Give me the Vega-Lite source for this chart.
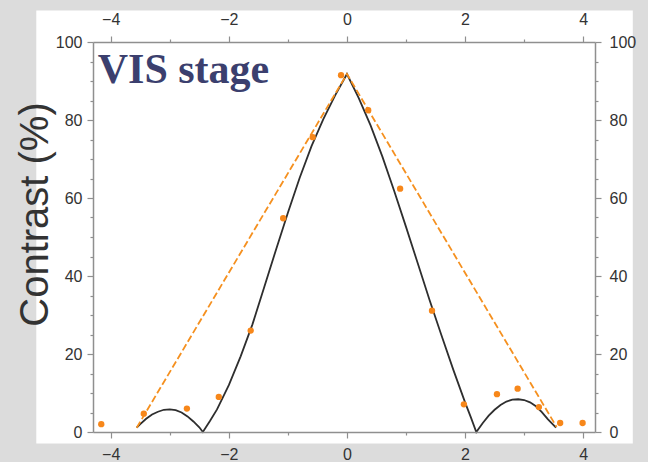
{
  "$schema": "https://vega.github.io/schema/vega-lite/v6.json",
  "width": 502,
  "height": 390,
  "autosize": "none",
  "padding": {"left": 93, "top": 42, "right": 53, "bottom": 30},
  "background": "#dcdcdc",
  "config": {
    "view": {"stroke": null, "fill": "white"},
    "axis": {
      "grid": false,
      "domainColor": "#8f8f8f",
      "domainWidth": 1.5,
      "tickColor": "#8f8f8f",
      "tickWidth": 1.2,
      "labelColor": "#333333",
      "labelFont": "Liberation Sans",
      "labelFontSize": 16,
      "titleFont": "Liberation Sans",
      "titleColor": "#333333"
    }
  },
  "datasets": {
    "measured": [
      {"v": -4.16, "c": 2.0}, {"v": -3.44, "c": 4.7}, {"v": -2.71, "c": 6.0},
      {"v": -2.17, "c": 9.0}, {"v": -1.63, "c": 26.0}, {"v": -1.08, "c": 54.8},
      {"v": -0.58, "c": 75.6}, {"v": -0.10, "c": 91.5}, {"v": 0.36, "c": 82.5},
      {"v": 0.90, "c": 62.4}, {"v": 1.44, "c": 31.1}, {"v": 1.98, "c": 7.1},
      {"v": 2.54, "c": 9.7}, {"v": 2.89, "c": 11.1}, {"v": 3.25, "c": 6.4},
      {"v": 3.61, "c": 2.3}, {"v": 3.99, "c": 2.3}
    ],
    "theory": [
      {"i": 1, "v": -3.56, "c": 1.1}, {"i": 2, "v": -3.5, "c": 2.0}, {"i": 3, "v": -3.4, "c": 3.4},
      {"i": 4, "v": -3.3, "c": 4.5}, {"i": 5, "v": -3.2, "c": 5.2}, {"i": 6, "v": -3.1, "c": 5.7},
      {"i": 7, "v": -3.0, "c": 5.8}, {"i": 8, "v": -2.9, "c": 5.6}, {"i": 9, "v": -2.8, "c": 5.0},
      {"i": 10, "v": -2.7, "c": 4.0}, {"i": 11, "v": -2.6, "c": 2.7}, {"i": 12, "v": -2.5, "c": 1.2},
      {"i": 13, "v": -2.44, "c": 0.0}, {"i": 14, "v": -2.32, "c": 2.8}, {"i": 15, "v": -2.2, "c": 5.8},
      {"i": 16, "v": -2.0, "c": 12.0}, {"i": 17, "v": -1.8, "c": 19.4}, {"i": 18, "v": -1.6, "c": 27.6},
      {"i": 19, "v": -1.4, "c": 37.2}, {"i": 20, "v": -1.2, "c": 46.8}, {"i": 21, "v": -1.0, "c": 56.2},
      {"i": 22, "v": -0.8, "c": 65.2}, {"i": 23, "v": -0.6, "c": 73.3}, {"i": 24, "v": -0.4, "c": 80.2},
      {"i": 25, "v": -0.2, "c": 86.3}, {"i": 26, "v": 0.0, "c": 91.8}, {"i": 27, "v": 0.2, "c": 85.6},
      {"i": 28, "v": 0.4, "c": 78.6}, {"i": 29, "v": 0.6, "c": 70.6}, {"i": 30, "v": 0.8, "c": 61.8},
      {"i": 31, "v": 1.0, "c": 52.6}, {"i": 32, "v": 1.2, "c": 43.2}, {"i": 33, "v": 1.4, "c": 33.8},
      {"i": 34, "v": 1.6, "c": 24.8}, {"i": 35, "v": 1.8, "c": 16.0}, {"i": 36, "v": 2.0, "c": 7.6},
      {"i": 37, "v": 2.1, "c": 3.7}, {"i": 38, "v": 2.19, "c": 0.0},
      {"i": 40, "v": 2.3, "c": 2.3}, {"i": 41, "v": 2.4, "c": 4.2}, {"i": 42, "v": 2.5, "c": 5.7},
      {"i": 43, "v": 2.6, "c": 6.9}, {"i": 44, "v": 2.7, "c": 7.8}, {"i": 45, "v": 2.8, "c": 8.3},
      {"i": 46, "v": 2.9, "c": 8.4}, {"i": 47, "v": 3.0, "c": 8.2}, {"i": 48, "v": 3.1, "c": 7.6},
      {"i": 49, "v": 3.2, "c": 6.6}, {"i": 50, "v": 3.3, "c": 5.1}, {"i": 51, "v": 3.4, "c": 3.3},
      {"i": 52, "v": 3.54, "c": 1.1}
    ],
    "linear": [
      {"i": 1, "v": -3.56, "c": 1.1}, {"i": 2, "v": 0.0, "c": 91.8}, {"i": 3, "v": 3.55, "c": 1.3}
    ]
  },
  "layer": [
    {
      "data": {"values": [{}]},
      "mark": {"type": "rect", "fill": "white", "clip": false},
      "encoding": {
        "x": {"datum": -5.26, "type": "quantitative", "scale": {"domain": [-4.3, 4.2], "nice": false, "zero": false}, "axis": null},
        "x2": {"datum": 4.84},
        "y": {"datum": -2.95, "type": "quantitative", "scale": {"domain": [0, 100], "nice": false, "zero": false}, "axis": null},
        "y2": {"datum": 108.1}
      }
    },
    {
      "data": {"name": "theory"},
      "mark": {"type": "line", "color": "#2e2e2e", "strokeWidth": 1.8},
      "encoding": {
        "x": {
          "field": "v", "type": "quantitative",
          "scale": {"domain": [-4.3, 4.2], "nice": false, "zero": false},
          "axis": {
            "orient": "bottom", "title": null, "format": "d", "zindex": 3,
            "values": [-4, -3.5, -3, -2.5, -2, -1.5, -1, -0.5, 0, 0.5, 1, 1.5, 2, 2.5, 3, 3.5, 4],
            "labelExpr": "datum.value % 2 === 0 ? datum.label : ''",
            "tickSize": {"condition": {"test": "datum.value % 2 === 0", "value": 6}, "value": 3},
            "labelPadding": 8,
            "labelFlush": false
          }
        },
        "y": {
          "field": "c", "type": "quantitative",
          "scale": {"domain": [0, 100], "nice": false, "zero": false},
          "axis": {
            "orient": "left", "zindex": 3,
            "title": "Contrast (%)",
            "titleFontSize": 40,
            "titleFontWeight": "normal",
            "titleAngle": -90,
            "titleX": -46,
            "titleY": 172,
            "titleAlign": "center",
            "titleBaseline": "alphabetic",
            "format": "d",
            "values": [0, 5, 10, 15, 20, 25, 30, 35, 40, 45, 50, 55, 60, 65, 70, 75, 80, 85, 90, 95, 100],
            "labelExpr": "datum.value % 20 === 0 ? datum.label : ''",
            "tickSize": {"condition": {"test": "datum.value % 20 === 0", "value": 6}, "value": 3},
            "labelPadding": 5,
            "labelFlush": false
          }
        },
        "order": {"field": "i"}
      }
    },
    {
      "data": {"name": "linear"},
      "mark": {"type": "line", "color": "#f5901f", "strokeWidth": 1.8, "strokeDash": [7, 3]},
      "encoding": {
        "x": {"field": "v", "type": "quantitative", "scale": {"domain": [-4.3, 4.2], "nice": false, "zero": false}, "axis": null},
        "y": {"field": "c", "type": "quantitative", "scale": {"domain": [0, 100], "nice": false, "zero": false}, "axis": null},
        "order": {"field": "i"}
      }
    },
    {
      "data": {"name": "measured"},
      "mark": {"type": "point", "filled": true, "color": "#f7871a", "size": 40, "opacity": 1},
      "encoding": {
        "x": {
          "field": "v", "type": "quantitative",
          "scale": {"domain": [-4.3, 4.2], "nice": false, "zero": false},
          "axis": {
            "orient": "top", "title": null, "format": "d", "zindex": 3,
            "values": [-4, -3.5, -3, -2.5, -2, -1.5, -1, -0.5, 0, 0.5, 1, 1.5, 2, 2.5, 3, 3.5, 4],
            "labelExpr": "datum.value % 2 === 0 ? datum.label : ''",
            "tickSize": {"condition": {"test": "datum.value % 2 === 0", "value": 6}, "value": 3},
            "labelPadding": 9,
            "labelFlush": false
          }
        },
        "y": {
          "field": "c", "type": "quantitative",
          "scale": {"domain": [0, 100], "nice": false, "zero": false},
          "axis": {
            "orient": "right", "title": null, "format": "d", "zindex": 3,
            "values": [0, 5, 10, 15, 20, 25, 30, 35, 40, 45, 50, 55, 60, 65, 70, 75, 80, 85, 90, 95, 100],
            "labelExpr": "datum.value % 20 === 0 ? datum.label : ''",
            "tickSize": {"condition": {"test": "datum.value % 20 === 0", "value": 6}, "value": 3},
            "labelPadding": 8,
            "labelFlush": false
          }
        }
      }
    },
    {
      "data": {"values": [{}]},
      "mark": {"type": "text", "text": "VIS stage", "font": "Liberation Serif", "fontWeight": "bold", "fontSize": 42, "color": "#3b3f6e", "align": "left", "baseline": "alphabetic"},
      "encoding": {
        "x": {"datum": -4.22, "type": "quantitative", "scale": {"domain": [-4.3, 4.2], "nice": false, "zero": false}, "axis": null},
        "y": {"datum": 89.4, "type": "quantitative", "scale": {"domain": [0, 100], "nice": false, "zero": false}, "axis": null}
      }
    }
  ],
  "resolve": {"axis": {"x": "independent", "y": "independent"}}
}
